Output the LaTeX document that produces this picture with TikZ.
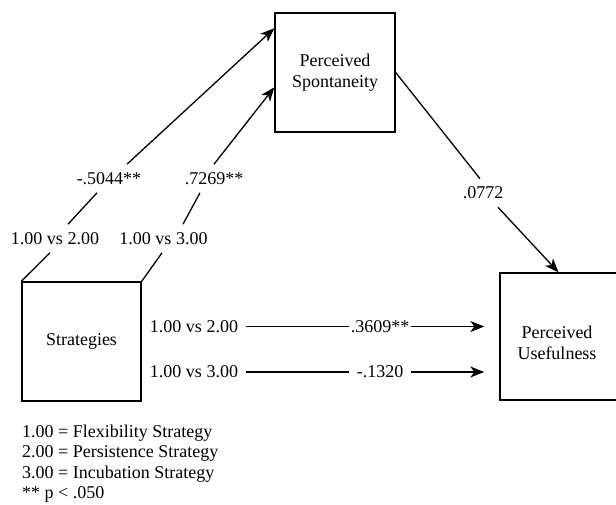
\documentclass[tikz,border=0pt]{standalone}
\usepackage{fontspec}
\setmainfont{Liberation Serif}
\usetikzlibrary{arrows.meta, positioning}

\begin{document}
\begin{tikzpicture}[x=1pt, y=-1pt,
    font=\fontsize{18}{21}\selectfont,
    box/.style={draw, line width=1.4pt, inner sep=0pt, align=center},
    lbl/.style={inner sep=8pt},
    val/.style={inner sep=0pt, minimum width=61pt, minimum height=20pt},
    link/.style={line width=1.3pt},
    arr/.style={link, -{Stealth[length=14pt, width=11pt, inset=4pt]}}]
  \useasboundingbox (0,0) rectangle (616,504);
  % boxes
  \node[box, minimum width=119pt, minimum height=119pt] (strat) at (81.5,341.5) {Strategies};
  \node[box, minimum width=120pt, minimum height=119pt] (spont) at (335,72.5) {Perceived\\Spontaneity};
  \node[box, minimum width=117pt, minimum height=127pt] (useful) at (558.5,336.5) {};
  \node[align=center] (usefultxt) at (557,343) {Perceived\\Usefulness};
  % contrast labels on the diagonal paths
  \node[lbl] (l12) at (55,238.5) {1.00 vs 2.00};
  \node[lbl] (c1) at (109,178.5) {-.5044**};
  \node[lbl] (l13) at (163.5,238.5) {1.00 vs 3.00};
  \node[lbl] (c2) at (214,178.5) {.7269**};
  \draw[link] (strat.north west) -- ([xshift=-5pt]l12.south);
  \draw[link] ([xshift=13pt]l12.north) -- ([xshift=-12pt]c1.south);
  \draw[arr] ([xshift=18pt]c1.north) -- ([yshift=-16pt]spont.north west);
  \draw[link] (strat.north east) -- ([xshift=-1.5pt]l13.south);
  \draw[link] ([xshift=19.5pt]l13.north) -- ([xshift=-14pt]c2.south);
  \draw[arr] (c2.north) -- ([yshift=-75pt]spont.north west);
  % spontaneity -> usefulness
  \node[lbl] (c3) at (483,193) {.0772};
  \draw[link] (spont.east) -- ([xshift=-3pt]c3.north);
  \draw[arr] ([xshift=15pt]c3.south) -- (useful.north);
  % direct paths
  \node[lbl] (h1) at (194,326.5) {1.00 vs 2.00};
  \node[val] (h1c) at (380,326.5) {.3609**};
  \node[lbl] (h2) at (194,372) {1.00 vs 3.00};
  \node[val] (h2c) at (380,372) {-.1320};
  \draw[link] (h1.east) -- (h1c.west);
  \draw[arr, shorten >=15pt] (h1c.east) -- (h1c.east -| useful.west);
  \draw[link] (h2.east) -- (h2c.west);
  \draw[arr, shorten >=15pt] (h2c.east) -- (h2c.east -| useful.west);
  % legend
  \node[anchor=north west, inner sep=0pt, align=left, font=\fontsize{18}{20.3}\selectfont] (legend) at (22,425)
    {1.00 = Flexibility Strategy\\2.00 = Persistence Strategy\\3.00 = Incubation Strategy\\** p < .050};
\end{tikzpicture}
\end{document}
